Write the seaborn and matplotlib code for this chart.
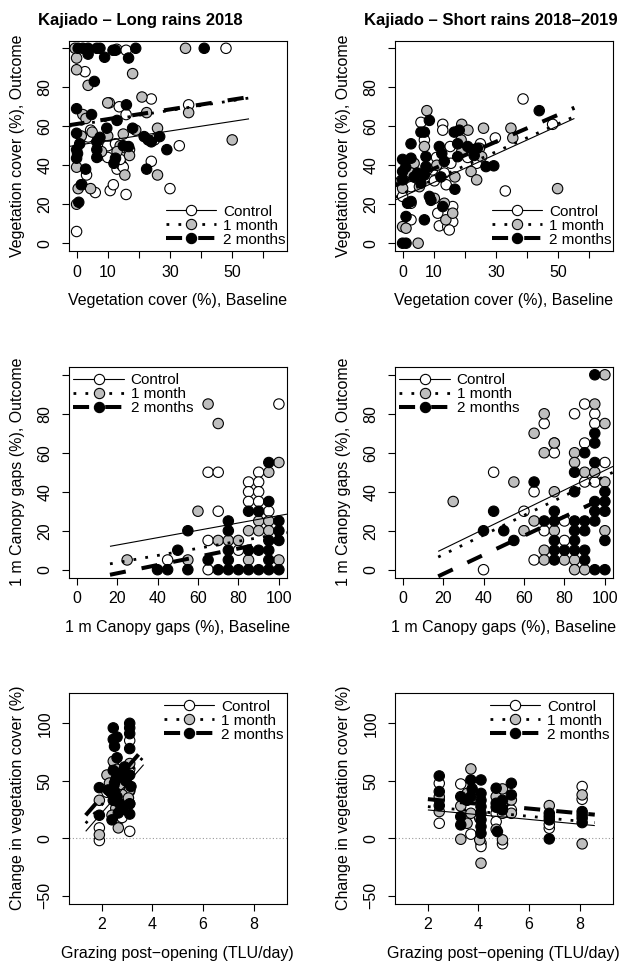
import numpy as np
import pandas as pd
import matplotlib
matplotlib.use("Agg")
import matplotlib.pyplot as plt
import seaborn as sns
from matplotlib.lines import Line2D

# ---------------- data ----------------
groups = ["Control", "1 month", "2 months"]

# Panel 1: Kajiado - Long rains 2018, vegetation cover
p1_c_x = [0, 2.7, 12.9, 15.9, 48, 10.5, 13.7, 15.9, 24, 36, 3.7, 10, 12.5, 15.5, 25, 33, 13, 14.5, 15, 24, 30, 1.7, 3.2, 6, 10.8, 11.8, 15.9, 7.5, 10, 14, 17, 4.5, 7]
p1_c_y = [6, 88, 99.5, 99, 100, 72, 70, 66, 74, 71, 54.5, 50, 51, 49, 53, 50, 38, 40, 39, 42, 28, 30, 35, 26, 27, 30, 25, 45, 44, 43, 48, 58, 53]
p1_g_x = [-0.5, 35, 0, 0, 18, 3.7, 10, 2, 3, 21, 22.5, 36, 1.5, 10, 15, 26, 50, 0, 14, 17, 15.5, 26, 0.5, 4.5, 0, 5, 13, 19, 8]
p1_g_y = [100, 100, 95, 89, 87, 81, 72, 66, 64, 75, 67, 67, 55, 55, 56, 59, 53, 39, 50, 45, 35, 35, 28, 28, 20, 57, 47, 58, 47]
p1_b_x = [0.5, 2, 3.7, 6.5, 7.5, 11.7, 12.5, 19, 41, 3.7, 9, 16.7, 5.7, 0, 4.8, 16, 13, 0, 7.5, 9.7, 18, 21.7, 23, 24, 26.7, 0, 0.3, 0, 1, 6.5, 6.5, 6.5, 12.5, 12, 16.7, 15, 22.5, 29, 1.5, 0.7, 2.9]
p1_b_y = [100, 100, 100, 100, 100, 99, 99, 100, 100, 97, 95.4, 95, 83, 69, 66, 71, 63, 56.4, 54.3, 59, 59, 54.7, 53, 52, 54.7, 48, 46, 43.6, 51, 52, 48, 44, 43.6, 41, 49.6, 50, 38, 48, 30, 21, 38]

# Panel 2: Kajiado - Short rains 2018-2019, vegetation cover
p2_c_x = [38.7, 48.2, 33, 12.9, 12.9, 5.9, 15.3, 29.8, 20.9, 23.8, 10.9, 10.2, 2.7, 2.7, 2.7, 11.3, 11.8, 14.5, 16.1, 15, 16.1, 14, 13.4, 15.5, 9.6, -0.5, 7, 25, 0]
p2_c_y = [74, 61, 26.8, 61, 58, 62, 49.6, 54, 44, 41, 44, 32, 29, 20.5, 12, 15.4, 8.9, 8.5, 11, 6.8, 18.8, 30, 36, 41, 37.6, 32, 53, 51, 24]
p2_g_x = [7.8, 19, 21, 26, 34.8, 35.4, 49.8, 7, 18.8, 24.7, 25.4, 22, 23.8, 16.8, 3.7, 0, 5.4, 0, 1.1, 5, 10.2, 13.4, 13.9, 16.1, 2.7, 19, 11, 8]
p2_g_y = [68, 61, 58, 59, 59, 54, 28, 49.6, 53, 48.7, 44.4, 36.8, 32.5, 34, 41, 28.2, 29, 8.5, 7.7, 0, 23, 20.5, 12, 15.4, 36, 47, 40, 38]
p2_b_x = [0, 0, 0, 1, 2.7, 2.7, 1.1, 1.1, 0, 1.6, 2.7, 5.9, 7, 8.6, 7.5, 7.5, 7, 4.8, 3.7, 5.9, 8.6, 9.1, 7, 11.8, 12.6, 13.4, 12.3, 12.9, 16.6, 18.2, 17.7, 16.8, 20.9, 22.5, 23, 24, 26.8, 29.3, 43.9, 17.7]
p2_b_y = [43, 36.8, 32.5, 39, 51, 43.6, 13.7, 0, 0, 20.5, 21.4, 57, 57, 63, 44.4, 39.3, 35, 36, 34, 30.8, 24, 22, 12, 49.6, 46, 42, 34, 18.8, 57, 58, 51, 27.7, 49.6, 48, 45, 48.7, 39.3, 39.7, 68, 44.4]

# Panel 3: Long rains, 1 m canopy gaps
p3_c_x = [100, 65, 70, 70, 65, 65, 45, 80, 85, 85, 85, 90, 90, 90, 90, 95]
p3_c_y = [85, 50, 50, 30, 15, 0, 5, 10, 45, 40, 35, 50, 45, 40, 35, 30]
p3_g_x = [65, 70, 60, 25, 55, 70, 75, 80, 85, 85, 95, 100, 90, 90, 95, 95, 100]
p3_g_y = [85, 75, 30, 5, 5, 15, 15, 15, 20, 5, 50, 55, 25, 20, 25, 20, 5]
p3_b_x = [55, 50, 55, 40, 45, 65, 70, 75, 80, 85, 90, 95, 100, 75, 75, 75, 75, 85, 85, 90, 90, 95, 95, 95, 95, 95, 100, 100, 100]
p3_b_y = [20, 10, 0, 0, 0, 5, 0, 0, 0, 0, 0, 0, 0, 25, 20, 10, 5, 30, 10, 30, 10, 55, 35, 15, 10, 5, 25, 20, 15]

# Panel 4: Short rains, 1 m canopy gaps
p4_c_x = [45, 40, 60, 65, 65, 70, 70, 75, 75, 80, 80, 85, 90, 90, 90, 95, 95, 95, 100]
p4_c_y = [50, 0, 30, 40, 5, 75, 20, 65, 60, 25, 15, 80, 85, 65, 45, 80, 75, 45, 55]
p4_g_x = [25, 55, 60, 65, 65, 70, 70, 70, 70, 75, 75, 75, 80, 85, 85, 85, 85, 90, 90, 95, 95, 100, 100, 100, 100]
p4_g_y = [35, 45, 20, 70, 25, 80, 60, 10, 5, 65, 40, 20, 5, 60, 55, 5, 0, 50, 0, 85, 50, 100, 75, 45, 20]
p4_b_x = [40, 45, 50, 55, 65, 70, 75, 75, 75, 75, 75, 80, 85, 85, 85, 85, 85, 85, 90, 90, 90, 90, 90, 95, 95, 95, 95, 95, 95, 95, 95, 100, 100, 100, 100, 100]
p4_b_y = [20, 30, 20, 15, 45, 25, 30, 25, 15, 10, 5, 10, 40, 50, 25, 20, 15, 10, 60, 25, 20, 10, 5, 100, 70, 65, 55, 35, 30, 25, 0, 40, 35, 30, 15, 0]

# Panel 5: Long rains, grazing vs change in vegetation cover
p5_c_x = [1.9, 1.9, 2.2, 2.35, 2.5, 2.7, 2.8, 2.95, 3.1, 3.1, 3.1, 3.1, 3.1, 2.45, 2.6, 2.85]
p5_c_y = [9, -2, 40, 55, 62, 17, 18, 45, 85, 60, 41, 6, 30, 20, 48, 35]
p5_g_x = [1.9, 1.9, 2.2, 2.45, 2.55, 2.65, 2.7, 2.95, 3.1, 3.1, 2.4, 2.8, 3.05, 2.3, 2.6]
p5_g_y = [3, 33, 55, 67, 26, 9, 45, 50, 65, 42, 20, 38, 35, 48, 60]
p5_b_x = [1.9, 1.9, 2.25, 2.45, 2.45, 2.5, 2.45, 2.5, 2.5, 2.45, 2.6, 2.6, 2.55, 2.6, 2.7, 2.75, 2.9, 2.95, 3.1, 3.1, 3.1, 3.1, 3.1, 3.15, 3.1, 3.1, 2.4, 2.35, 2.8, 2.65]
p5_b_y = [20, 44, 42, 96, 86, 80, 59, 48, 41, 33, 88, 70, 51, 36, 30, 57, 62, 50, 100, 96, 91, 78, 55, 45, 30, 21, 16, 40, 25, 22]

# Panel 6: Short rains, grazing vs change in vegetation cover
p6_c_x = [2.45, 2.45, 3.3, 3.7, 4.1, 4.1, 4.05, 4.7, 4.7, 4.95, 4.95, 5.3, 6.8, 6.8, 8.1, 8.1]
p6_c_y = [47.8, 13, 47.2, 3.5, -4.3, -7.2, 17.4, 21.7, 14.5, 30, -4.9, 24.6, 8.7, 12, 45, 33.9]
p6_g_x = [2.45, 2.45, 2.45, 3.3, 3.3, 3.55, 3.55, 3.7, 3.7, 4.05, 4.1, 4.7, 4.7, 4.95, 4.95, 4.95, 5.3, 5.3, 6.8, 8.1, 8.1, 8.1]
p6_g_y = [33.3, 23.2, 36, 28, -0.9, 13, 39, 60.3, 21.7, -1.4, -21.7, 36.2, 7.8, 42.9, -1.4, 21.7, 33.3, 21.7, 28.4, 37.7, -4.9, 20.3]
p6_b_x = [2.45, 2.45, 2.45, 3.3, 3.3, 3.3, 3.55, 3.7, 3.7, 3.75, 4.1, 4.1, 4.1, 4.1, 4.1, 4.1, 4.1, 4.1, 4.7, 4.7, 4.75, 4.7, 4.95, 4.95, 5.3, 5.3, 6.8, 6.8, 6.8, 6.8, 8.1, 8.1, 8.1]
p6_b_y = [54.2, 40.6, 28.4, 36.2, 18.8, 11.6, 33, 50.7, 36.2, 43, 50.7, 39, 33, 27.5, 21.7, 16, 10.1, 4.3, 43.5, 30.4, 5.8, 27, 33, 24.6, 47.8, 37.7, 21.7, 16, -0.6, 18.8, 23.2, 17.4, 13.6]

# fitted lines per panel: x range and y at ends (Control, 1 month, 2 months)
fit_x = {1: (-2.6, 55.4), 2: (-2.6, 55.2), 3: (16.5, 104), 4: (17.6, 104), 5: (1.36, 3.65), 6: (2.0, 8.6)}
fit_y = {
    1: [(49.6, 63.8), (60.0, 74.5), (60.5, 75.0)],
    2: [(22.0, 64.0), (23.5, 65.0), (29.5, 69.5)],
    3: [(12.0, 28.5), (3.0, 19.0), (-2.6, 16.0)],
    4: [(9.4, 53.0), (6.5, 50.0), (-3.4, 39.0)],
    5: [(6.0, 64.0), (13.0, 71.0), (20.0, 78.0)],
    6: [(24.6, 11.0), (27.5, 13.6), (34.0, 20.5)],
}

titles = {1: "Kajiado \u2013 Long rains 2018", 2: "Kajiado \u2013 Short rains 2018\u20132019"}
xlabels = {1: "Vegetation cover (%), Baseline", 3: "1 m Canopy gaps (%), Baseline",
           5: "Grazing post\u2212opening (TLU/day)"}
ylabels = {1: "Vegetation cover (%), Outcome", 3: "1 m Canopy gaps (%), Outcome",
           5: "Change in vegetation cover (%)"}

# ---------------- style ----------------
sns.set_theme(style="ticks")
plt.rcParams["font.family"] = ["Liberation Sans", "DejaVu Sans"]
plt.rcParams["axes.unicode_minus"] = True

W, H = 623, 964
fig = plt.figure(figsize=(W / 100, H / 100), dpi=100)
fig.patch.set_facecolor("white")

fills = {"Control": "white", "1 month": "#BEBEBE", "2 months": "black"}
line_kw = {
    "Control": dict(lw=0.8, ls="-"),
    "1 month": dict(lw=2.0, ls=(0, (1, 3.3))),
    "2 months": dict(lw=2.9, ls=(0, (4, 4))),
}

cols = {0: (68.5, 287.0), 1: (394.5, 613.0)}
rows = {0: (40.5, 251.0), 1: (367.0, 577.5), 2: (692.5, 903.5)}

panel_data = {
    1: (p1_c_x, p1_c_y, p1_g_x, p1_g_y, p1_b_x, p1_b_y),
    2: (p2_c_x, p2_c_y, p2_g_x, p2_g_y, p2_b_x, p2_b_y),
    3: (p3_c_x, p3_c_y, p3_g_x, p3_g_y, p3_b_x, p3_b_y),
    4: (p4_c_x, p4_c_y, p4_g_x, p4_g_y, p4_b_x, p4_b_y),
    5: (p5_c_x, p5_c_y, p5_g_x, p5_g_y, p5_b_x, p5_b_y),
    6: (p6_c_x, p6_c_y, p6_g_x, p6_g_y, p6_b_x, p6_b_y),
}

FS = 11.5
LFS = 11

for p in range(1, 7):
    r = (p - 1) // 2
    c = (p - 1) % 2
    l, rr = cols[c]
    t, b = rows[r]
    ax = fig.add_axes([l / W, 1 - b / H, (rr - l) / W, (b - t) / H])
    cx, cy, gx, gy, bx, by = panel_data[p]
    df = pd.concat([
        pd.DataFrame({"x": cx, "y": cy, "group": "Control"}),
        pd.DataFrame({"x": gx, "y": gy, "group": "1 month"}),
        pd.DataFrame({"x": bx, "y": by, "group": "2 months"}),
    ], ignore_index=True)

    if r == 2:
        ax.axhline(0, color="#999999", lw=0.8, ls=(0, (1, 2)), zorder=1)

    sns.scatterplot(data=df, x="x", y="y", hue="group", hue_order=groups, palette=fills,
                    edgecolor="black", linewidth=0.8, s=56, legend=False, ax=ax, zorder=2)

    x0, x1 = fit_x[p]
    for gi, g in enumerate(groups):
        y0, y1 = fit_y[p][gi]
        ax.plot([x0, x1], [y0, y1], color="black", zorder=3, solid_capstyle="butt",
                dash_capstyle="butt", **line_kw[g])

    # axes limits and ticks
    if r == 0:
        ax.set_xlim(-2.6, 67.6); ax.set_ylim(-4, 104)
        ax.set_xticks(np.arange(0, 61, 10))
        ax.set_xticklabels(["0", "10", "", "30", "", "50", ""])
        ax.set_yticks(np.arange(0, 101, 20))
        ax.set_yticklabels(["0", "20", "40", "60", "80", ""])
    elif r == 1:
        ax.set_xlim(-4, 104); ax.set_ylim(-4, 104)
        ax.set_xticks(np.arange(0, 101, 20))
        ax.set_xticklabels(["0", "20", "40", "60", "80", "100"])
        ax.set_yticks(np.arange(0, 101, 20))
        ax.set_yticklabels(["0", "20", "40", "60", "80", ""])
    else:
        ax.set_xlim(0.68, 9.32); ax.set_ylim(-56.8, 126.8)
        ax.set_xticks([2, 4, 6, 8])
        ax.set_xticklabels(["2", "4", "6", "8"])
        ax.set_yticks([-50, 0, 50, 100])
        ax.set_yticklabels(["\u221250", "0", "50", "100"])

    ax.tick_params(axis="both", direction="out", length=5, width=0.8, color="black",
                   labelsize=FS, labelcolor="black", bottom=True, left=True)
    ax.tick_params(axis="x", pad=5)
    ax.tick_params(axis="y", pad=6.5)
    for lab in ax.get_yticklabels():
        lab.set_rotation(90)
        lab.set_va("center")
    for sp in ax.spines.values():
        sp.set_visible(True)
        sp.set_color("black")
        sp.set_linewidth(0.8)

    wpx = rr - l
    hpx = b - t
    ax.set_xlabel(xlabels[r * 2 + 1], fontsize=FS, color="black")
    ax.set_ylabel(ylabels[r * 2 + 1], fontsize=FS, color="black")
    ax.xaxis.set_label_coords(0.5, -50 / hpx)
    ax.xaxis.label.set_va("center")
    ax.yaxis.set_label_coords(-51 / wpx, 0.5)
    ax.yaxis.label.set_va("center")

    if r == 0:
        fig.text((l - 31) / W, 1 - 21 / H, titles[p], fontsize=12, fontweight="bold",
                 ha="left", va="center", color="black")

    # legend
    handles = [Line2D([0], [0], color="black", marker="o", markersize=7.4,
                      markerfacecolor=fills[g], markeredgecolor="black", markeredgewidth=0.8,
                      **line_kw[g]) for g in groups]
    if r == 0:
        lx, ly = l + 97.3, t + 164.2
    elif r == 1:
        lx, ly = l + 4.8, t + 6.2
    else:
        lx, ly = l + 95.0, t + 7.3
    leg = ax.legend(handles=handles, labels=groups, loc="upper left",
                    bbox_to_anchor=((lx - l) / wpx, 1 - (ly - t) / hpx),
                    frameon=False, fontsize=LFS, handlelength=3.3, handletextpad=0.45,
                    labelspacing=0.0, borderpad=0, borderaxespad=0, numpoints=1)
    for txt in leg.get_texts():
        txt.set_color("black")

    ax.set_facecolor("white")

fig.savefig("out.png", dpi=100, facecolor="white")
